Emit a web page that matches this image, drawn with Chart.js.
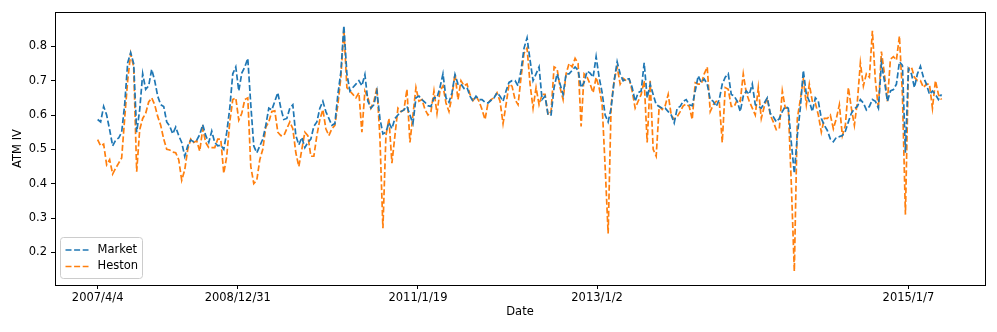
<!DOCTYPE html>
<html>
<head>
<meta charset="utf-8">
<script src="https://cdn.jsdelivr.net/npm/chart.js@4/dist/chart.umd.min.js"></script>
<style>
html,body{margin:0;padding:0;background:#fff;}
#wrap{width:997px;height:332px;position:relative;}
</style>
</head>
<body>
<div id="wrap"><canvas id="c" width="997" height="332"></canvas></div>
<script>
// Tick positions (observation index) and labels of the date axis
const xTickIndex = [0, 46.67, 106.67, 166.33, 270];
const xTickLabels = ["2007/4/4", "2008/12/31", "2011/1/19", "2013/1/2", "2015/1/7"];
const yTickValues = [0.2, 0.3, 0.4, 0.5, 0.6, 0.7, 0.8];

// Market ATM implied volatility
const market = [
0.587,0.58,0.625,0.60,0.557,0.51,0.527,0.533,0.55,0.63,0.752,0.782,0.75,0.55,0.615,0.72,0.675,0.685,0.733,0.70,0.655,0.63,0.625,0.58,0.568,0.545,
0.565,0.54,0.52,0.48,0.51,0.527,0.522,0.527,0.543,0.572,0.54,0.52,0.553,0.52,0.51,0.512,0.50,0.55,0.62,0.72,0.74,0.67,0.722,0.74,0.765,0.63,0.51,
0.49,0.51,0.53,0.57,0.62,0.615,0.64,0.665,0.62,0.587,0.59,0.62,0.63,0.54,0.513,0.535,0.505,0.52,0.53,0.567,0.58,0.62,0.64,0.61,0.59,0.57,0.575,
0.66,0.725,0.86,0.72,0.67,0.68,0.69,0.70,0.685,0.718,0.64,0.62,0.63,0.67,0.59,0.545,0.55,0.578,0.56,0.59,0.60,0.61,0.615,0.625,0.6,0.575,
0.65,0.655,0.645,0.637,0.627,0.625,0.65,0.65,0.68,0.72,0.65,0.637,0.665,0.718,0.69,0.69,0.677,0.68,0.655,0.64,0.655,0.645,0.645,0.637,0.635,0.643,0.65,
0.665,0.655,0.64,0.67,0.695,0.7,0.7,0.685,0.73,0.795,0.825,0.76,0.7,0.72,0.74,0.645,0.655,0.6,0.6,0.68,0.72,0.69,0.66,0.72,0.72,0.73,0.74,
0.73,0.68,0.695,0.728,0.722,0.71,0.77,0.71,0.665,0.6,0.58,0.62,0.70,0.755,0.72,0.70,0.705,0.705,0.68,0.64,0.665,0.67,0.752,0.65,0.69,0.66,
0.63,0.625,0.62,0.62,0.61,0.6,0.577,0.62,0.625,0.64,0.645,0.63,0.627,0.67,0.714,0.695,0.705,0.69,0.645,0.64,0.625,0.645,0.69,0.71,0.72,0.66,0.655,
0.64,0.61,0.655,0.67,0.66,0.69,0.63,0.625,0.62,0.635,0.65,0.605,0.595,0.58,0.59,0.61,0.625,0.62,0.52,0.43,0.54,0.62,0.73,0.66,0.64,0.61,0.65,
0.64,0.59,0.57,0.555,0.53,0.522,0.535,0.537,0.54,0.553,0.58,0.605,0.618,0.625,0.645,0.635,0.615,0.625,0.645,0.64,0.62,0.75,0.7,0.64,0.67,0.674,
0.69,0.755,0.745,0.49,0.735,0.72,0.68,0.72,0.742,0.71,0.69,0.66,0.67,0.66,0.645,0.66
];

// Heston model ATM implied volatility
const heston = [
0.528,0.51,0.515,0.455,0.47,0.428,0.445,0.46,0.475,0.59,0.70,0.778,0.74,0.435,0.557,0.59,0.605,0.638,0.65,0.63,0.596,0.57,0.53,0.50,0.498,0.492,
0.49,0.47,0.41,0.44,0.5,0.53,0.52,0.525,0.495,0.56,0.52,0.505,0.505,0.505,0.53,0.53,0.43,0.48,0.58,0.645,0.65,0.585,0.605,0.645,0.65,0.45,0.40,
0.41,0.47,0.50,0.565,0.58,0.61,0.612,0.55,0.54,0.54,0.56,0.58,0.56,0.49,0.45,0.50,0.55,0.54,0.48,0.48,0.54,0.587,0.616,0.56,0.54,0.56,0.57,
0.63,0.71,0.85,0.68,0.67,0.66,0.65,0.665,0.55,0.67,0.65,0.62,0.64,0.68,0.535,0.27,0.54,0.59,0.46,0.54,0.62,0.61,0.615,0.675,0.52,0.60,
0.68,0.64,0.645,0.616,0.6,0.61,0.67,0.605,0.67,0.685,0.635,0.61,0.655,0.72,0.645,0.7,0.685,0.69,0.66,0.642,0.655,0.64,0.616,0.587,0.635,0.645,0.65,
0.665,0.64,0.575,0.63,0.69,0.684,0.645,0.63,0.71,0.78,0.795,0.69,0.62,0.68,0.63,0.66,0.66,0.6,0.61,0.74,0.735,0.68,0.645,0.72,0.75,0.74,0.765,
0.75,0.567,0.72,0.71,0.69,0.665,0.71,0.68,0.63,0.45,0.255,0.63,0.70,0.74,0.69,0.707,0.70,0.705,0.67,0.62,0.64,0.66,0.70,0.52,0.70,0.50,
0.48,0.625,0.616,0.627,0.66,0.6,0.587,0.595,0.61,0.627,0.632,0.625,0.587,0.694,0.69,0.69,0.72,0.74,0.61,0.63,0.64,0.64,0.52,0.68,0.675,0.625,0.625,
0.645,0.64,0.72,0.665,0.64,0.62,0.6,0.68,0.59,0.625,0.65,0.60,0.58,0.557,0.56,0.67,0.62,0.62,0.40,0.145,0.59,0.645,0.705,0.63,0.69,0.64,0.635,
0.6,0.55,0.59,0.59,0.6,0.56,0.59,0.63,0.54,0.57,0.68,0.62,0.57,0.64,0.752,0.685,0.72,0.71,0.845,0.70,0.62,0.785,0.72,0.64,0.762,0.77,
0.76,0.83,0.66,0.31,0.735,0.74,0.71,0.70,0.70,0.68,0.69,0.69,0.62,0.70,0.66,0.645
];

const seriesNames = ["Market", "Heston"];
const seriesColors = ["#1f77b4", "#ff7f0e"];

const FONT = {family: "'DejaVu Sans', sans-serif", size: 11.5};
const DASH = [6, 2.6];
const LW = 1.7;

const framePlugin = {
  id: 'frame',
  afterDatasetsDraw(chart) {
    const {ctx, chartArea: a} = chart;
    ctx.save();
    ctx.strokeStyle = '#000';
    ctx.lineWidth = 1;
    ctx.strokeRect(Math.round(a.left) + 0.5, Math.round(a.top) + 0.5, Math.round(a.right - a.left), Math.round(a.bottom - a.top));
    ctx.restore();
  }
};

const legendPlugin = {
  id: 'mplLegend',
  afterDraw(chart) {
    const {ctx, chartArea: a} = chart;
    const x0 = a.left + 5.5, w = 82, h = 41;
    const y0 = a.bottom - 6.5 - h;
    ctx.save();
    ctx.fillStyle = 'rgba(255,255,255,0.8)';
    ctx.strokeStyle = '#cccccc';
    ctx.lineWidth = 1;
    ctx.beginPath();
    ctx.roundRect(x0, y0, w, h, 3);
    ctx.fill();
    ctx.stroke();
    ctx.font = "11.5px 'DejaVu Sans', sans-serif";
    ctx.textBaseline = 'middle';
    chart.data.datasets.forEach((ds, i) => {
      const yy = y0 + 12.5 + i * 16.5;
      ctx.strokeStyle = ds.borderColor;
      ctx.lineWidth = LW;
      ctx.setLineDash(DASH);
      ctx.beginPath();
      ctx.moveTo(x0 + 5, yy);
      ctx.lineTo(x0 + 28, yy);
      ctx.stroke();
      ctx.setLineDash([]);
      ctx.fillStyle = '#000';
      ctx.fillText(ds.label, x0 + 37, yy);
    });
    ctx.restore();
  }
};

const toPts = arr => arr.map((v, i) => ({x: i, y: v}));

new Chart(document.getElementById('c'), {
  type: 'line',
  data: {
    datasets: [
      {label: seriesNames[0], data: toPts(market), borderColor: seriesColors[0], backgroundColor: seriesColors[0],
       borderWidth: LW, borderDash: DASH, pointRadius: 0, tension: 0, fill: false},
      {label: seriesNames[1], data: toPts(heston), borderColor: seriesColors[1], backgroundColor: seriesColors[1],
       borderWidth: LW, borderDash: DASH, pointRadius: 0, tension: 0, fill: false}
    ]
  },
  options: {
    responsive: false,
    animation: false,
    devicePixelRatio: 1,
    layout: {padding: {left: 0, right: 12, top: 12, bottom: 0}},
    plugins: {legend: {display: false}, tooltip: {enabled: false}},
    scales: {
      x: {
        type: 'linear',
        min: -14.2,
        max: 295.5,
        afterBuildTicks: s => { s.ticks = xTickIndex.map(v => ({value: v})); },
        afterFit: s => { s.height = 47; },
        ticks: {
          autoSkip: false, maxRotation: 0, color: '#000', font: FONT, padding: 2,
          callback: (v, i) => xTickLabels[i]
        },
        grid: {drawOnChartArea: false, tickLength: 4, color: '#000', tickWidth: 1},
        border: {display: false},
        title: {display: true, text: 'Date', color: '#000', font: FONT, padding: {top: 0, bottom: 13}}
      },
      y: {
        type: 'linear',
        min: 0.105,
        max: 0.9,
        afterBuildTicks: s => { s.ticks = yTickValues.map(v => ({value: v})); },
        afterFit: s => { s.width = 55; },
        ticks: {color: '#000', font: FONT, padding: 4, callback: v => v.toFixed(1)},
        grid: {drawOnChartArea: false, tickLength: 4, color: '#000', tickWidth: 1},
        border: {display: false},
        title: {display: true, text: 'ATM IV', color: '#000', font: FONT, padding: {top: 11, bottom: 0}}
      }
    }
  },
  plugins: [framePlugin, legendPlugin]
});
</script>
</body>
</html>
